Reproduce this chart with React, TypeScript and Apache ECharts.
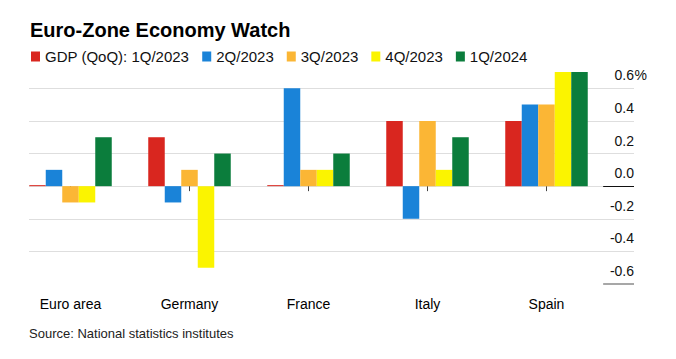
import React, { useEffect, useRef } from "react";
import * as echarts from "echarts";

const categories = ["Euro area", "Germany", "France", "Italy", "Spain"];
const seriesNames = ["GDP (QoQ): 1Q/2023", "2Q/2023", "3Q/2023", "4Q/2023", "1Q/2024"];
const q1_2023 = [0.0, 0.3, 0.0, 0.4, 0.4];
const q2_2023 = [0.1, -0.1, 0.6, -0.2, 0.5];
const q3_2023 = [-0.1, 0.1, 0.1, 0.4, 0.5];
const q4_2023 = [-0.1, -0.5, 0.1, 0.1, 0.7];
const q1_2024 = [0.3, 0.2, 0.2, 0.3, 0.7];
const colors = ["#d9261f", "#1a83d8", "#fbb635", "#fbf400", "#0b7d3c"];
const yMin = -0.6;
const yMax = 0.7;
const yStep = 0.2;

const FONT = "'Liberation Sans', Arial, sans-serif";

export default function App() {
  const ref = useRef<HTMLDivElement>(null);
  useEffect(() => {
    if (!ref.current) return;
    const chart = echarts.init(ref.current, undefined, { renderer: "svg" });
    const values = [q1_2023, q2_2023, q3_2023, q4_2023, q1_2024];
    const barSeries = seriesNames.map((name, i) => ({
      name,
      type: "bar",
      xAxisIndex: 0,
      yAxisIndex: 0,
      data: values[i],
      barWidth: 16.5,
      barGap: "0%",
      barMinHeight: i === 0 ? 1 : 0,
      itemStyle: { color: colors[i] },
      z: 3,
    }));
    chart.setOption({
      animation: false,
      textStyle: { fontFamily: FONT },
      title: [
        {
          text: "Euro-Zone Economy Watch",
          left: 30,
          top: 20,
          padding: 0,
          textStyle: { fontSize: 20, fontWeight: "bold", color: "#000", fontFamily: FONT },
        },
        {
          text: "Source: National statistics institutes",
          left: 29,
          top: 327,
          padding: 0,
          textStyle: { fontSize: 13, fontWeight: "normal", color: "#222", fontFamily: FONT },
        },
      ],
      legend: {
        data: seriesNames,
        left: 31,
        top: 49,
        padding: 0,
        itemWidth: 9,
        itemHeight: 10,
        itemGap: 13,
        icon: "rect",
        selectedMode: false,
        textStyle: { fontSize: 15, color: "#111", fontFamily: FONT },
      },
      grid: [
        { left: 11, right: 70, top: 72, bottom: 75 },
        { left: 29, right: 42, top: 72, bottom: 75 },
      ],
      xAxis: [
        {
          type: "category",
          gridIndex: 0,
          data: categories,
          axisLine: { show: false },
          axisTick: { show: true, alignWithLabel: true, length: 5, lineStyle: { color: "#444" } },
          axisLabel: { fontSize: 14, color: "#000", margin: 13, fontFamily: FONT },
        },
        { type: "value", gridIndex: 1, min: 0, max: 1, show: false },
      ],
      yAxis: [
        { type: "value", gridIndex: 0, min: yMin, max: yMax, interval: yStep, show: false },
        {
          type: "value",
          gridIndex: 1,
          position: "right",
          min: yMin,
          max: yMax,
          interval: yStep,
          axisLine: { show: false },
          axisTick: { show: false },
          splitLine: {
            show: true,
            showMinLine: false,
            showMaxLine: false,
            lineStyle: { color: "#dedede", width: 1 },
          },
          axisLabel: {
            inside: true,
            margin: 0,
            showMaxLabel: false,
            verticalAlign: "bottom",
            padding: [0, 0, 6, 0],
            fontSize: 14,
            color: "#111",
            fontFamily: FONT,
            formatter: (v: number) => (Math.abs(v) < 1e-9 ? "0.0" : v.toFixed(1)),
          },
        },
      ],
      graphic: [
        {
          type: "text",
          right: 29,
          top: 68,
          style: { text: "%", fontSize: 14, fill: "#111", fontFamily: FONT },
        },
      ],
      series: [
        ...barSeries,
        {
          type: "line",
          xAxisIndex: 1,
          yAxisIndex: 1,
          data: [],
          silent: true,
          markLine: {
            silent: true,
            symbol: "none",
            label: { show: false },
            data: [
              [
                { coord: [0.949, 0], lineStyle: { color: "#111", width: 1, type: "solid" } },
                { coord: [1, 0] },
              ],
              [
                { coord: [0.949, yMin], lineStyle: { color: "#8a8a8a", width: 1.5, type: "solid" } },
                { coord: [1, yMin] },
              ],
            ],
          },
        },
      ],
    });
    return () => chart.dispose();
  }, []);
  return (
    <div
      ref={ref}
      style={{ position: "fixed", left: 0, top: 0, width: 676, height: 359, background: "#fff" }}
    />
  );
}
